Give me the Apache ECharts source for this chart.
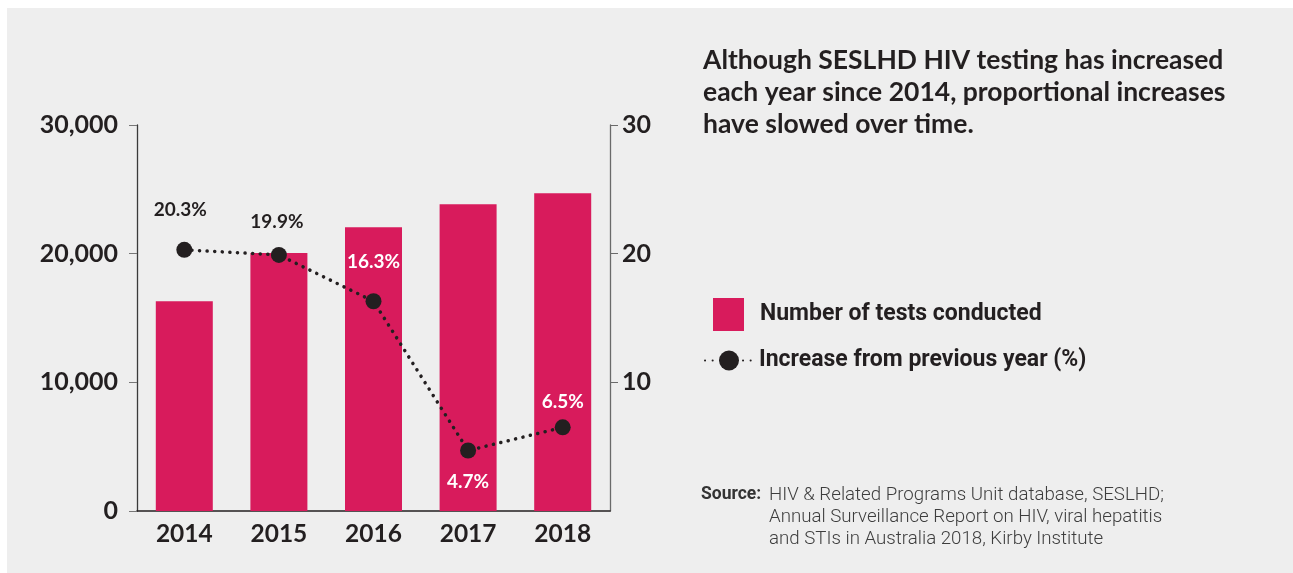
<!DOCTYPE html>
<html>
<head>
<meta charset="utf-8">
<script src="https://cdn.jsdelivr.net/npm/echarts@6/dist/echarts.min.js"></script>
<style>
html,body{margin:0;padding:0;background:#ffffff;}
#panel{position:absolute;left:7px;top:8px;width:1286px;height:565px;background:#eeeeee;}
#chart{position:absolute;left:0;top:0;width:1293px;height:573px;}
</style>
</head>
<body>
<div id="panel"></div>
<div id="chart"></div>
<script>
const years = ['2014', '2015', '2016', '2017', '2018'];
const testsConducted = [16300, 20050, 22050, 23850, 24700];
const increasePct = [20.3, 19.9, 16.3, 4.7, 6.5];
const leftTicks = [0, 10000, 20000, 30000];
const rightTicks = [10, 20, 30];
const titleLines = ['Although SESLHD HIV testing has increased', 'each year since 2014, proportional increases', 'have slowed over time.'];
const sourceLines = ['HIV & Related Programs Unit database, SESLHD;', 'Annual Surveillance Report on HIV, viral hepatitis', 'and STIs in Australia 2018, Kirby Institute'];
const seriesNames = ['Number of tests conducted', 'Increase from previous year (%)'];

const PINK = '#d81b5c';
const INK = '#231f20';
const NUMFONT = 'Lato';

const labelCfg = [
  {position: 'top', distance: 22, offset: [-4, 0], color: INK},
  {position: 'top', distance: 16, offset: [-2, 0], color: INK},
  {position: 'top', distance: 22, offset: [0, 0], color: '#ffffff'},
  {position: 'bottom', distance: 14, offset: [0, 0], color: '#ffffff'},
  {position: 'top', distance: 8, offset: [0, 0], color: '#ffffff'}
];

const lineData = increasePct.map((v, i) => ({
  value: v,
  label: {
    show: true,
    position: labelCfg[i].position,
    distance: labelCfg[i].distance,
    offset: labelCfg[i].offset,
    color: labelCfg[i].color,
    formatter: v.toFixed(1) + '%',
    fontFamily: NUMFONT, fontWeight: 'bold', fontSize: 19
  }
}));

const chart = echarts.init(document.getElementById('chart'), null, {renderer: 'canvas'});
chart.setOption({
  backgroundColor: 'transparent',
  animation: false,
  title: {
    text: titleLines.join('\n'),
    left: 698, top: 39,
    textStyle: {fontFamily: NUMFONT, fontWeight: 'bold', fontSize: 26.5, lineHeight: 32, color: INK}
  },
  legend: [
    {
      data: [seriesNames[0]],
      left: 708, top: 293,
      itemWidth: 31, itemHeight: 33,
      icon: 'rect',
      textStyle: {fontFamily: 'Roboto', fontWeight: 'bold', fontSize: 23, color: INK, padding: [0, 0, 0, 11]}
    },
    {
      data: [seriesNames[1]],
      left: 699, top: 344,
      itemWidth: 48, itemHeight: 25,
      textStyle: {fontFamily: 'Roboto', fontWeight: 'bold', fontSize: 23, color: INK, padding: [0, 0, 0, 1]}
    }
  ],
  grid: {left: 137, right: 683, top: 125, bottom: 62, containLabel: false},
  xAxis: {
    type: 'category',
    data: years,
    axisLine: {lineStyle: {color: INK, width: 1.5}},
    axisTick: {show: false},
    axisLabel: {fontFamily: NUMFONT, fontWeight: 'bold', fontSize: 24.5, color: INK, margin: 11}
  },
  yAxis: [
    {
      type: 'value', min: 0, max: 30000, interval: 10000,
      axisLine: {show: true, lineStyle: {color: '#3a3a3a', width: 1.3}},
      axisTick: {show: true, length: 8, lineStyle: {color: '#777'}},
      splitLine: {show: false},
      axisLabel: {
        fontFamily: NUMFONT, fontWeight: 'bold', fontSize: 25, color: INK, margin: 19,
        formatter: v => leftTicks.indexOf(v) >= 0 ? v.toLocaleString('en-US') : ''
      }
    },
    {
      type: 'value', min: 0, max: 30, interval: 10, position: 'right',
      axisLine: {show: true, lineStyle: {color: '#6a6a6a', width: 1.3}},
      axisTick: {show: true, length: 8, lineStyle: {color: '#6a6a6a'}},
      splitLine: {show: false},
      axisLabel: {
        fontFamily: NUMFONT, fontWeight: 'bold', fontSize: 25, color: INK, margin: 12,
        showMinLabel: false,
        formatter: v => rightTicks.indexOf(v) >= 0 ? String(v) : ''
      }
    }
  ],
  series: [
    {
      name: seriesNames[0],
      type: 'bar',
      data: testsConducted,
      barWidth: 57,
      itemStyle: {color: PINK},
      yAxisIndex: 0
    },
    {
      name: seriesNames[1],
      type: 'line',
      yAxisIndex: 1,
      data: lineData,
      symbol: 'circle',
      symbolSize: 16,
      itemStyle: {color: INK},
      lineStyle: {color: INK, width: 3.5, type: [0.1, 7.5], cap: 'round'},
      z: 5
    }
  ],
  graphic: [
    {
      type: 'text', left: 701, top: 484,
      style: {text: 'Source:', fontFamily: 'Roboto', fontWeight: 'bold', fontSize: 17.5, lineHeight: 22, fill: '#333333'}
    },
    {
      type: 'text', left: 769, top: 484,
      style: {text: sourceLines.join('\n'), fontFamily: 'Roboto', fontWeight: 300, fontSize: 18.7, lineHeight: 22, fill: '#3d3d3d'}
    }
  ]
});
</script>
</body>
</html>
